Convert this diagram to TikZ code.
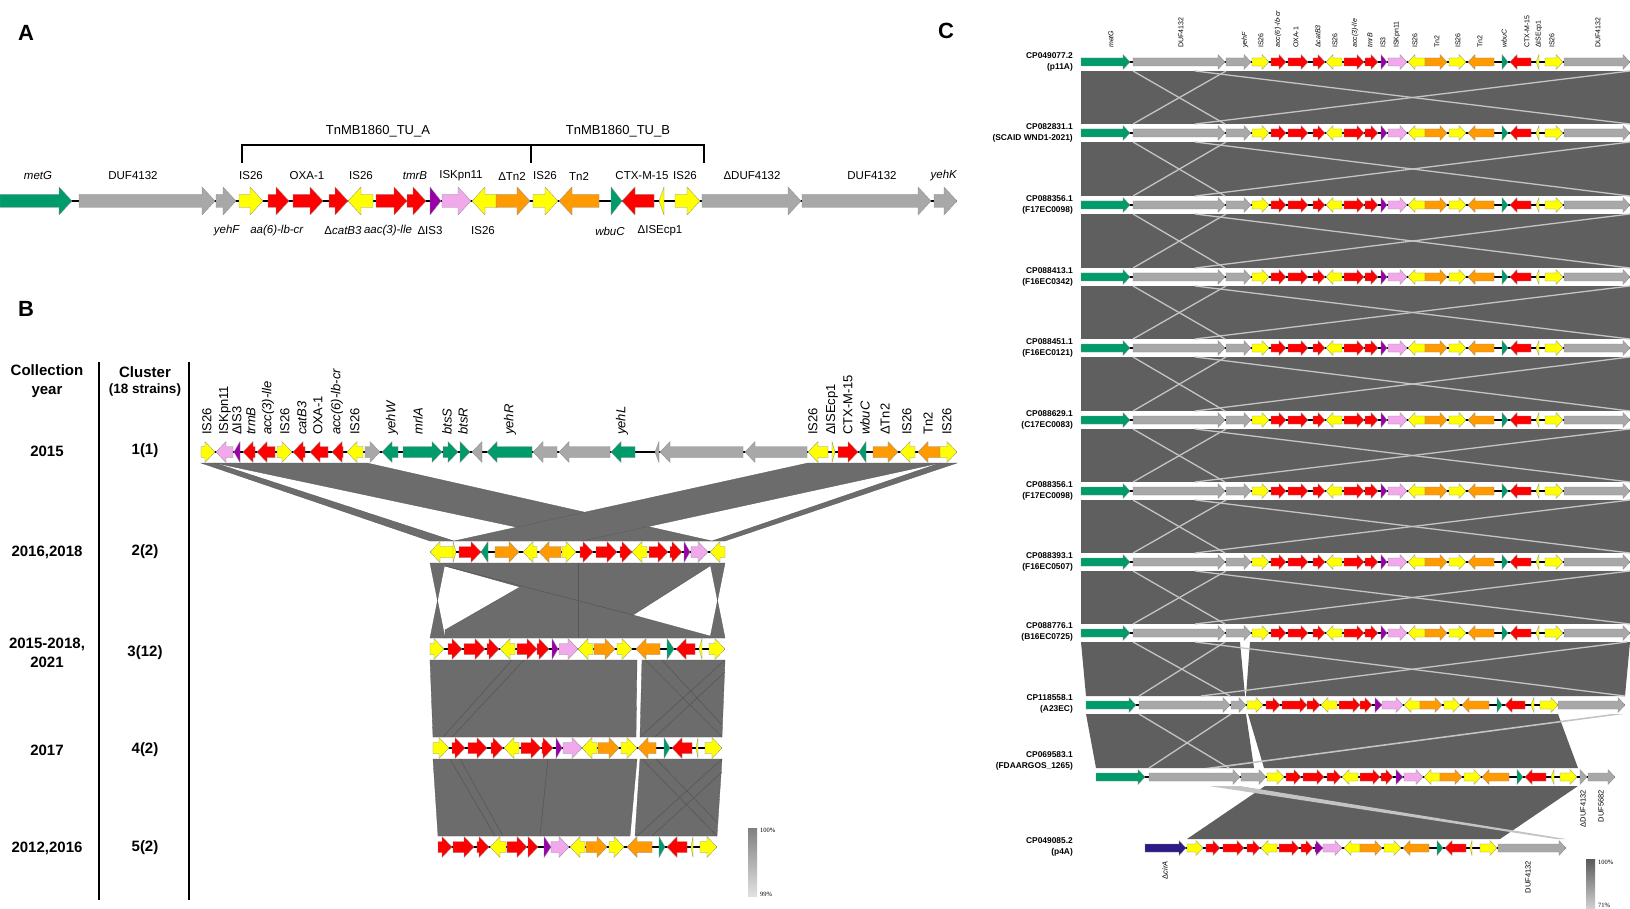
\documentclass[tikz,border=0pt]{standalone}
\usepackage{fontspec}
\setmainfont{Liberation Sans}
\newfontfamily\lserif{Liberation Serif}
\definecolor{cY}{HTML}{FFFF00}
\definecolor{cR}{HTML}{FF0000}
\definecolor{cG}{HTML}{009B6B}
\definecolor{cGy}{HTML}{A8A8A8}
\definecolor{cO}{HTML}{FF9A00}
\definecolor{cP}{HTML}{9A00AA}
\definecolor{cK}{HTML}{F2A9EC}
\definecolor{cB}{HTML}{2E1A87}
\definecolor{ribB}{HTML}{6C6C6C}
\definecolor{ribC}{HTML}{5F5F5F}
\definecolor{ribE}{HTML}{575757}
\definecolor{litC}{HTML}{C4C4C4}
\definecolor{gline}{HTML}{8C8C8C}
\tikzset{
  genestyle/.style={draw=gline, line width=0.3pt, line join=miter},
  bbone/.style={line width=2.2pt, black},
  bbC/.style={line width=1.3pt, black},
  panel/.style={font=\bfseries\fontsize{22}{24}\selectfont, inner sep=0pt},
  lblA/.style={font=\fontsize{11.5}{13}\selectfont, inner sep=0pt},
  lblBr/.style={font=\fontsize{13}{15}\selectfont, inner sep=0pt, rotate=90, anchor=west},
  tabB/.style={font=\bfseries\fontsize{15}{19}\selectfont, inner sep=0pt, align=center},
  lblC/.style={font=\fontsize{7}{8}\selectfont, inner sep=0pt, rotate=90},
  rowC/.style={font=\bfseries\fontsize{8.4}{10.5}\selectfont, inner sep=0pt, align=right, anchor=east},
  legt/.style={font=\lserif\fontsize{6.5}{7}\selectfont, inner sep=0pt, anchor=west},
  ribBf/.style={fill=ribB, draw=ribE, line width=0.3pt},
  ribedge/.style={draw=ribE, line width=0.6pt},
  litline/.style={draw=litC, line width=1.3pt},
}
\newcommand\gArrow[4]{%
  \pgfmathsetmacro\gAL{(#2)-(#1)}%
  \pgfmathsetmacro\gAH{abs(\gAL)<\GHL ? \gAL : \GHL*sign(\gAL)}%
  \pgfmathsetmacro\gAB{(#2)-(\gAH)}%
  \filldraw[genestyle, fill=#4] (#1,#3-\GBH) -- (\gAB,#3-\GBH) -- (\gAB,#3-\GHH) -- (#2,#3) -- (\gAB,#3+\GHH) -- (\gAB,#3+\GBH) -- (#1,#3+\GBH) -- cycle;%
}
\begin{document}
\begin{tikzpicture}[x=1pt,y=-1pt]
\useasboundingbox (0,0) rectangle (1630,909);
\fill[white] (0,0) rectangle (1630,909);

% ---------------- panel letters
\node[panel] (pA) at (26,33) {A};
\node[panel] (pB) at (26,309) {B};
\node[panel] (pC) at (946,31) {C};

% ================= PANEL A
\def\GBH{6.5}\def\GHH{14}\def\GHL{13}
\draw[line width=2.4pt] (242,163) -- (242,145) -- (704,145) -- (704,163);
\draw[line width=2.4pt] (531,145) -- (531,163);
\node[font=\fontsize{13}{15}\selectfont, inner sep=0pt] (tuA) at (378,131) {TnMB1860\_TU\_A};
\node[font=\fontsize{13}{15}\selectfont, inner sep=0pt] (tuB) at (618,131) {TnMB1860\_TU\_B};
\draw[bbone] (0,201) -- (957,201);
\foreach \a/\b/\c in {0/72/cG, 79/215/cGy, 216/236/cGy, 239/263/cY, 268/289/cR, 293/323/cR, 329/348/cR, 373/348/cY, 376/407/cR, 407/426/cR, 430/441/cP, 442/471/cK, 497/472/cY, 496/530/cO, 533/558/cY, 599/559/cO, 611/622/cG, 654/622/cR, 664/659/cY, 675/700/cY, 702/801/cGy, 802/931/cGy, 934/957/cGy}
  {\gArrow{\a}{\b}{201}{\c}}
\foreach \x/\t [count=\i] in {38/\textit{metG}, 133/DUF4132, 251/IS26, 307/OXA-1, 361/IS26, 415/\textit{tmrB}, 461/ISKpn11, 512/ΔTn2, 545/IS26, 579/Tn2, 642/CTX-M-15, 685/IS26, 752/ΔDUF4132, 872/DUF4132, 944/\textit{yehK}}
  {\node[lblA] (aU\i) at (\x,176) {\t};}
\foreach \x/\t [count=\i] in {227/\textit{yehF}, 277/\textit{aa(6)-lb-cr}, 343/Δ\textit{catB3}, 388/\textit{aac(3)-lle}, 430/ΔIS3, 483/IS26, 610/\textit{wbuC}, 660/ΔISEcp1}
  {\node[lblA] (aD\i) at (\x,231) {\t};}

% ================= PANEL B table
\draw[line width=2.6pt] (99,362) -- (99,900);
\draw[line width=2.6pt] (189,362) -- (189,900);
\node[tabB] (hY) at (47,381) {Collection\\year};
\node[tabB] (hCl) at (145,372) {Cluster};
\node[tabB, font=\bfseries\fontsize{13.5}{16}\selectfont] (hCs) at (145,390) {(18 strains)};
\foreach \y/\t/\c [count=\i] in {451/2015/1(1), 552/{2016,2018}/2(2), 653/{2015-2018,\\2021}/3(12), 750/2017/4(2), 848/{2012,2016}/5(2)}
  {\node[tabB] (yr\i) at (47,\y) {\t};
   \node[tabB] (cl\i) at (145,\y) {\c};}

% ribbons B
\fill[ribBf] (201,463) -- (215,463) -- (454,541) -- (430,541) -- cycle;
\fill[ribBf] (215,463) -- (367,463) -- (712,541) -- (582,541) -- cycle;
\fill[ribBf] (808,463) -- (940,463) -- (582,541) -- (454,541) -- cycle;
\fill[ribBf] (940,463) -- (957,463) -- (725,541) -- (712,541) -- cycle;

\fill[ribBf] (430,563) -- (445,563) -- (430,638) -- (445,638) -- cycle;
\fill[ribBf] (710,563) -- (725,563) -- (710,638) -- (725,638) -- cycle;
\fill[ribBf] (445,563) -- (710,563) -- (710,566) -- (633,615) -- (710,636) -- (710,638) -- (445,638) -- (445,630) -- (520,587) -- (445,566) -- cycle;
\draw[ribedge] (578,563) -- (578,638);
\draw[ribedge] (445,566) -- (633,615);

\fill[ribBf] (430,660) -- (637,660) -- (636,737) -- (433,737) -- cycle;
\fill[ribBf] (642,660) -- (725,660) -- (722,737) -- (640,737) -- cycle;
\draw[ribedge] (512,660) -- (443,737);
\draw[ribedge] (524,660) -- (452,737);
\draw[ribedge] (645,660) -- (722,737);
\draw[ribedge] (662,660) -- (722,725);
\draw[ribedge] (725,660) -- (640,737);
\draw[ribedge] (725,672) -- (655,737);

\fill[ribBf] (433,759) -- (637,759) -- (630,836) -- (438,836) -- cycle;
\fill[ribBf] (640,759) -- (722,759) -- (717,836) -- (635,836) -- cycle;
\draw[ribedge] (450,759) -- (495,836);
\draw[ribedge] (460,759) -- (503,836);
\draw[ribedge] (548,759) -- (540,836);
\draw[ribedge] (642,759) -- (717,836);
\draw[ribedge] (656,759) -- (717,822);
\draw[ribedge] (722,759) -- (637,836);
\draw[ribedge] (722,772) -- (652,836);

% genes B
\def\GBH{5.5}\def\GHH{10.5}\def\GHL{10}
\draw[bbone] (201,452) -- (957,452);
\foreach \a/\b/\c in {201/215/cY, 233/216/cK, 240/234/cP, 255/243/cR, 275/257/cR, 277/292/cY, 305/293/cR, 328/310/cR, 343/332/cR, 363/347/cY, 365/380/cGy, 398/382/cG, 403/442/cG, 443/458/cG, 460/470/cG, 482/472/cGy, 532/487/cG, 557/533/cGy, 610/559/cGy, 635/611/cG, 659/655/cGy, 743/660/cGy, 807/745/cGy, 828/808/cY, 832/835/cY, 838/858/cR, 866/859/cG, 873/898/cO, 915/900/cY, 940/918/cO, 940/957/cY}
  {\gArrow{\a}{\b}{452}{\c}}
\draw[bbone] (430,552) -- (725,552);
\foreach \a/\b/\c in {454/430/cY, 453/456/cY, 459/481/cR, 488/481/cG, 495/519/cO, 537/523/cY, 561/539/cO, 562/576/cY, 580/593/cR, 596/617/cR, 620/632/cR, 647/632/cY, 649/668/cR, 670/682/cR, 684/690/cP, 691/708/cK, 725/710/cY}
  {\gArrow{\a}{\b}{552}{\c}}
\draw[bbone] (430,649) -- (725,649);
\foreach \a/\b/\c in {430/444/cY, 448/462/cR, 464/485/cR, 487/499/cR, 515/500/cY, 517/537/cR, 537/549/cR, 552/558/cP, 559/578/cK, 593/578/cY, 594/615/cO, 617/632/cY, 660/636/cO, 667/674/cG, 695/676/cR, 702/699/cY, 709/725/cY}
  {\gArrow{\a}{\b}{649}{\c}}
\draw[bbone] (433,748) -- (722,748);
\foreach \a/\b/\c in {433/449/cY, 452/465/cR, 468/487/cR, 491/503/cR, 519/504/cY, 521/541/cR, 542/553/cR, 556/562/cP, 563/582/cK, 597/582/cY, 598/619/cO, 621/637/cY, 656/638/cO, 664/670/cG, 692/672/cR, 698/696/cY, 705/722/cY}
  {\gArrow{\a}{\b}{748}{\c}}
\draw[bbone] (438,847) -- (717,847);
\foreach \a/\b/\c in {438/452/cR, 453/474/cR, 477/489/cR, 506/490/cY, 507/527/cR, 528/538/cR, 544/551/cP, 551/569/cK, 585/570/cY, 586/607/cO, 609/624/cY, 652/627/cO, 659/665/cG, 687/667/cR, 693/691/cY, 700/717/cY}
  {\gArrow{\a}{\b}{847}{\c}}
\foreach \x/\t [count=\i] in {207/IS26, 225/ISKpn11, 237/ΔIS3, 251/\textit{trmB}, 268/\textit{acc(3)-lle}, 285/IS26, 302/\textit{catB3}, 318/OXA-1, 337/\textit{acc(6)-lb-cr}, 355/IS26, 392/\textit{yehW}, 418/\textit{mrlA}, 447/\textit{btsS}, 463/\textit{btsR}, 510/\textit{yehR}, 622/\textit{yehL}, 813/IS26, 832/ΔISEcp1, 848/CTX-M-15, 865/\textit{wbuC}, 885/ΔTn2, 907/IS26, 928/Tn2, 947/IS26}
  {\node[lblBr] (bL\i) at (\x,435) {\t};}
% legend B
\shade[top color=black!50, bottom color=black!12] (748,828) rectangle (757,896);
\node[legt] (lgB1) at (760,830) {100\%};
\node[legt] (lgB2) at (760,894) {99\%};

% ================= PANEL C
\def\GBH{4}\def\GHH{7.5}\def\GHL{7}
% ribbons rows 1-9
\foreach \ya/\yb in {62/133, 133/205, 205/277, 277/348, 348/420, 420/491, 491/562, 562/633}{
  \fill[ribC] (1081,\ya+9) rectangle (1630,\yb-9);
  \draw[litline] (1133,\ya+9) -- (1225,\yb-9);
  \draw[litline] (1226,\ya+9) -- (1133,\yb-9);
  \draw[litline] (1195,\ya+9) -- (1630,\yb-9);
  \draw[litline] (1195,\yb-9) -- (1630,\ya+9);
}
% row 9 -> 10
\fill[ribC] (1081,642) -- (1240,642) -- (1245,696) -- (1086,696) -- cycle;
\fill[ribC] (1250,642) -- (1630,642) -- (1625,696) -- (1246,696) -- cycle;
\draw[litline] (1133,642) -- (1230,696);
\draw[litline] (1225,642) -- (1139,696);
\draw[litline] (1195,642) -- (1625,696);
\draw[litline] (1627,642) -- (1201,696);
% row 10 -> 11
\fill[ribC] (1086,714) -- (1246,714) -- (1254,768) -- (1096,768) -- cycle;
\fill[ribC] (1248,714) -- (1558,714) -- (1578,768) -- (1264,768) -- cycle;
\draw[litline] (1139,714) -- (1229,768);
\draw[litline] (1231,714) -- (1149,768);
\fill[litC] (1612,714) -- (1624,714) -- (1217,768) -- (1205,768) -- cycle;
% row 11 -> 12
\fill[ribC] (1265,786) -- (1578,786) -- (1500,839) -- (1187,839) -- cycle;
\fill[litC] (1209,786) -- (1240,786) -- (1566,839) -- (1556,839) -- cycle;

% genes C rows 1-9
\foreach \y in {62,133,205,277,348,420,491,562,633}{
  \draw[bbC] (1081,\y) -- (1630,\y);
  \foreach \a/\b/\c in {1081/1130/cG, 1133/1225/cGy, 1226/1251/cGy, 1252/1269/cY, 1271/1286/cR, 1288/1308/cR, 1313/1325/cR, 1342/1326/cY, 1344/1364/cR, 1365/1378/cR, 1381/1387/cP, 1388/1407/cK, 1425/1408/cY, 1425/1447/cO, 1449/1466/cY, 1494/1468/cO, 1502/1508/cG, 1531/1510/cR, 1539/1536/cY, 1545/1563/cY, 1564/1630/cGy}
    {\gArrow{\a}{\b}{\y}{\c}}
}
% row 10
\draw[bbC] (1086,705) -- (1625,705);
\foreach \a/\b/\c in {1086/1136/cG, 1139/1230/cGy, 1231/1246/cGy, 1247/1263/cY, 1266/1280/cR, 1282/1307/cR, 1307/1320/cR, 1337/1321/cY, 1339/1360/cR, 1360/1372/cR, 1375/1382/cP, 1382/1403/cK, 1420/1404/cY, 1420/1442/cO, 1444/1460/cY, 1489/1462/cO, 1497/1502/cG, 1525/1505/cR, 1534/1531/cY, 1540/1558/cY, 1558/1625/cGy}
  {\gArrow{\a}{\b}{705}{\c}}
% row 11
\draw[bbC] (1096,777) -- (1615,777);
\foreach \a/\b/\c in {1096/1145/cG, 1149/1240/cGy, 1241/1266/cGy, 1267/1284/cY, 1286/1301/cR, 1303/1324/cR, 1327/1341/cR, 1358/1342/cY, 1360/1380/cR, 1381/1393/cR, 1396/1403/cP, 1404/1423/cK, 1440/1424/cY, 1440/1462/cO, 1464/1481/cY, 1509/1482/cO, 1517/1523/cG, 1546/1525/cR, 1554/1551/cY, 1560/1577/cY, 1580/1587/cGy, 1588/1615/cGy}
  {\gArrow{\a}{\b}{777}{\c}}
% row 12
\draw[bbC] (1145,848) -- (1566,848);
\foreach \a/\b/\c in {1145/1186/cB, 1187/1203/cY, 1206/1220/cR, 1223/1244/cR, 1247/1260/cR, 1277/1261/cY, 1279/1299/cR, 1301/1313/cR, 1315/1323/cP, 1323/1342/cK, 1360/1344/cY, 1360/1382/cO, 1384/1401/cY, 1429/1403/cO, 1437/1443/cG, 1466/1445/cR, 1472/1470/cY, 1480/1497/cY, 1498/1566/cGy}
  {\gArrow{\a}{\b}{848}{\c}}

% header labels C
\foreach \x/\t [count=\i] in {1111/\textit{metG}, 1181/DUF4132, 1245/\textit{yehF}, 1261/IS26, 1278/\textit{acc(6')-lb-cr}, 1296/OXA-1, 1318/Δ\textit{catB3}, 1335/IS26, 1355/\textit{acc(3)-lle}, 1370/\textit{tmrB}, 1383/IS3, 1397/ISKpn11, 1415/IS26, 1437/Tn2, 1458/IS26, 1480/Tn2, 1504/\textit{wbuC}, 1527/CTX-M-15, 1539/ΔISEcp1, 1552/IS26, 1598/DUF4132}
  {\node[lblC, anchor=west] (hC\i) at (\x,48) {\t};}
\node[lblC, anchor=east, font=\fontsize{7.5}{8}\selectfont] (dD1) at (1583,790) {ΔDUF4132};
\node[lblC, anchor=east, font=\fontsize{7.5}{8}\selectfont] (dD2) at (1601,790) {DUF5682};
\node[lblC, anchor=east, font=\fontsize{7.5}{8}\selectfont] (dD3) at (1165,861) {Δ\textit{cirA}};
\node[lblC, anchor=east, font=\fontsize{7.5}{8}\selectfont] (dD4) at (1528,861) {DUF4132};

% row labels C
\foreach \y/\a/\b [count=\i] in {62/CP049077.2/(p11A), 133/CP082831.1/(SCAID WND1-2021), 205/CP088356.1/(F17EC0098), 277/CP088413.1/(F16EC0342), 348/CP088451.1/(F16EC0121), 420/CP088629.1/(C17EC0083), 491/CP088356.1/(F17EC0098), 562/CP088393.1/(F16EC0507), 632/CP088776.1/(B16EC0725), 704/CP118558.1/(A23EC), 761/CP069583.1/(FDAARGOS\_1265), 847/CP049085.2/(p4A)}
  {\node[rowC] (rc\i) at (1073,\y) {\a\\\b};}

% legend C
\shade[top color=black!65, bottom color=black!15] (1586,859) rectangle (1595,912);
\node[legt] (lgC1) at (1598,862) {100\%};
\node[legt] (lgC2) at (1598,905) {71\%};
\end{tikzpicture}
\end{document}
